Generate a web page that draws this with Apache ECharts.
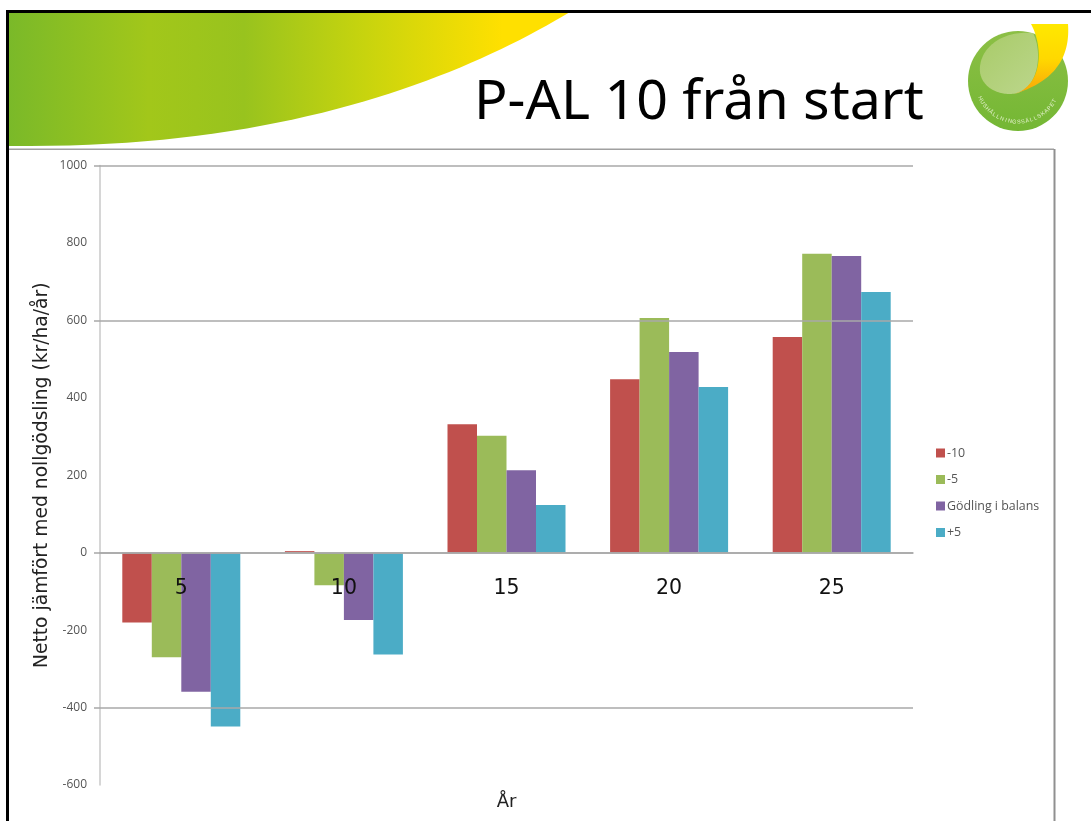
<!DOCTYPE html>
<html>
<head>
<meta charset="utf-8">
<style>html,body{margin:0;padding:0;background:#fff}#c{width:1091px;height:821px}</style>
<script src="https://cdn.jsdelivr.net/npm/echarts@6/dist/echarts.min.js"></script>
</head>
<body>
<div id="c"></div>
<script>
const categories = ['5', '10', '15', '20', '25'];
const seriesNames = ['-10', '-5', 'Gödling i balans', '+5'];
const minus10 = [-180, 4, 332, 448, 557];
const minus5 = [-270, -84, 302, 606, 772];
const balans = [-359, -174, 213, 518, 766];
const plus5 = [-449, -263, 123, 428, 673];
const colors = ['#C0504D', '#9BBB59', '#8064A2', '#4BACC6'];
const drawnGridValues = [-400, 0, 600, 1000];
const titleText = 'P-AL 10 från start';
const yName = 'Netto jämfört med nollgödsling (kr/ha/år)';
const xName = 'År';
const logoText = 'HUSHÅLLNINGSSÄLLSKAPET';

const values = [minus10, minus5, balans, plus5];
const sans = '"Open Sans","Noto Sans",sans-serif';
const tahoma = '"DejaVu Sans",sans-serif';

// Decorative outline helper: start point, then cubic segments [c1x,c1y,c2x,c2y,x,y] or lines [x,y]
function outline(start, segs) {
  const pts = [start];
  let p = start;
  segs.forEach(s => {
    if (s.length === 2) { pts.push(s); p = s; return; }
    for (let k = 1; k <= 40; k++) {
      const t = k / 40, u = 1 - t;
      pts.push([
        u*u*u*p[0] + 3*u*u*t*s[0] + 3*u*t*t*s[2] + t*t*t*s[4],
        u*u*u*p[1] + 3*u*u*t*s[1] + 3*u*t*t*s[3] + t*t*t*s[5]
      ]);
    }
    p = [s[4], s[5]];
  });
  return pts;
}

const logoLetters = logoText.split('').map((ch, i) => {
  const th = (-64 + 124 * i / (logoText.length - 1)) * Math.PI / 180;
  return {
    type: 'text', silent: true, z: 13, rotation: th,
    x: 1018 + 42 * Math.sin(th), y: 80 + 42 * Math.cos(th),
    style: { text: ch, fill: '#e6f2cf', font: '5.5px "Liberation Sans",sans-serif', align: 'center', verticalAlign: 'middle' }
  };
});

const chart = echarts.init(document.getElementById('c'), null, { renderer: 'canvas' });
chart.setOption({
  animation: false,
  backgroundColor: '#fff',
  title: {
    text: titleText, left: 474, top: 75, padding: 0,
    textStyle: { fontFamily: '"Noto Sans",sans-serif', fontWeight: 400, fontSize: 55.5, color: '#000' }
  },
  legend: {
    orient: 'vertical', left: 936, top: 447, itemWidth: 9, itemHeight: 9, itemGap: 14.5,
    icon: 'rect', data: seriesNames, padding: 0,
    textStyle: { fontFamily: sans, fontSize: 12.4, color: '#555', padding: [0, 0, 0, -3] }
  },
  grid: { left: 100, width: 813, top: 165.5, height: 619.5, outerBoundsMode: 'none', containLabel: false },
  xAxis: {
    type: 'category', data: categories, z: 5, position: 'bottom', offset: -232.4,
    axisLine: { onZero: false, lineStyle: { color: '#a8a8a8', width: 1.5 } },
    axisTick: { show: false },
    axisLabel: { margin: 26, fontFamily: tahoma, fontSize: 20.5, color: '#111' },
    name: xName, nameLocation: 'middle', nameGap: 241,
    nameTextStyle: { fontFamily: tahoma, fontSize: 18, color: '#222' }
  },
  yAxis: {
    type: 'value', min: -600, max: 1000, interval: 200,
    axisLine: { show: true, onZero: false, lineStyle: { color: '#c8c8c8', width: 1.5 } },
    axisTick: { show: true, length: 6, customValues: drawnGridValues, lineStyle: { color: '#a8a8a8', width: 1.5 } },
    axisLabel: { margin: 13, fontFamily: sans, fontSize: 12, color: '#555', formatter: v => String(v) },
    splitLine: { show: false },
    name: yName, nameLocation: 'middle', nameGap: 48, nameRotate: 90, nameMoveOverlap: false,
    nameTextStyle: { fontFamily: tahoma, fontSize: 18.7, color: '#222' }
  },
  series: seriesNames.map((name, i) => ({
    name, type: 'bar', data: values[i], barWidth: 29.5, barGap: 0,
    itemStyle: { color: colors[i] }, z: 2
  })).concat([{
    name: 'grid', type: 'line', data: [], z: 1, silent: true, symbol: 'none',
    markLine: {
      silent: true, symbol: 'none', animation: false, label: { show: false },
      lineStyle: { color: '#a8a8a8', width: 1.5, type: 'solid' },
      emphasis: { disabled: true },
      data: drawnGridValues.map(v => ({ yAxis: v }))
    }
  }]),
  graphic: [
    { type: 'polygon', silent: true, z: 10,
      shape: { points: outline([8, 12], [[570, 12], [470, 72, 300, 146, 30, 146], [8, 146]]) },
      style: { fill: new echarts.graphic.LinearGradient(0, 0, 1, 0, [
        { offset: 0, color: '#7ab929' }, { offset: 0.25, color: '#a2c71a' },
        { offset: 0.42, color: '#98c31e' }, { offset: 0.62, color: '#c4d30f' },
        { offset: 0.88, color: '#ffe000' }, { offset: 1, color: '#ffe000' }]) } },
    { type: 'rect', silent: true, z: 11, shape: { x: 6, y: 10, width: 1085, height: 3 }, style: { fill: '#000' } },
    { type: 'rect', silent: true, z: 11, shape: { x: 6, y: 10, width: 3, height: 811 }, style: { fill: '#000' } },
    { type: 'rect', silent: true, z: 1, shape: { x: 9, y: 148.5, width: 1045, height: 1.5 }, style: { fill: '#a0a0a0' } },
    { type: 'rect', silent: true, z: 1, shape: { x: 1053.5, y: 149, width: 2, height: 672 }, style: { fill: '#909090' } },
    { type: 'circle', silent: true, z: 11, shape: { cx: 1018, cy: 81, r: 50 },
      style: { fill: new echarts.graphic.LinearGradient(0, 0, 0, 1, [
        { offset: 0, color: '#8cbf45' }, { offset: 1, color: '#74b734' }]) } },
    { type: 'polygon', silent: true, z: 12,
      shape: { points: outline([1033, 33], [[1000, 30, 978, 50, 980, 72], [982, 88, 1000, 97, 1018, 93], [1040, 85, 1042, 50, 1033, 33]]) },
      style: { fill: new echarts.graphic.LinearGradient(0, 0, 1, 1, [
        { offset: 0, color: '#a8cb68' }, { offset: 1, color: '#bcd68c' }]) } },
    { type: 'polygon', silent: true, z: 13,
      shape: { points: outline([1031, 24], [[1068, 24], [1070, 52, 1060, 80, 1014, 94], [1042, 86, 1044, 48, 1031, 24]]) },
      style: { fill: new echarts.graphic.LinearGradient(0, 0, 0, 1, [
        { offset: 0, color: '#ffe800' }, { offset: 0.5, color: '#ffd800' }, { offset: 1, color: '#f9a50a' }]) } }
  ].concat(logoLetters)
});
</script>
</body>
</html>
